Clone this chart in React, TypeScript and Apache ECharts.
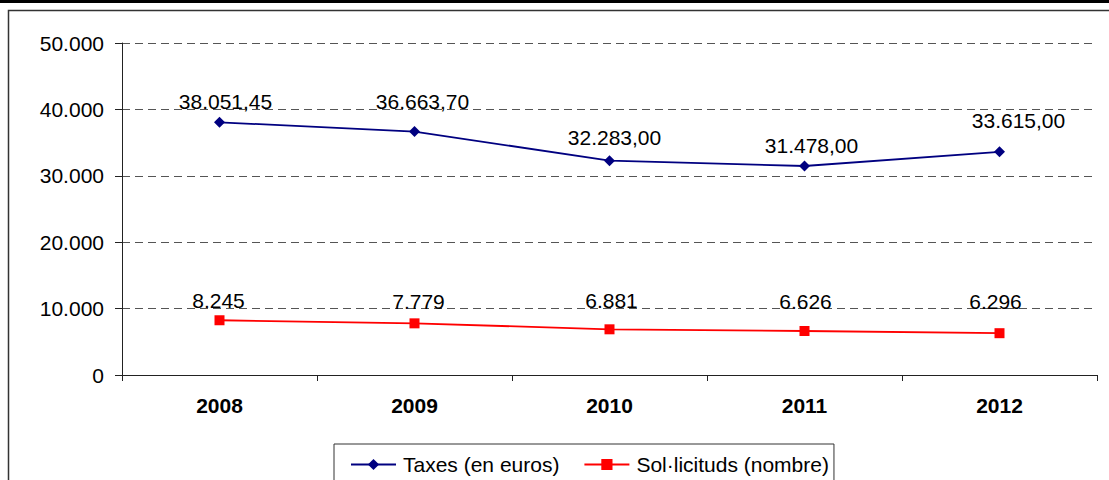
import React, { useEffect, useRef } from "react";
import * as echarts from "echarts";

const years = ["2008", "2009", "2010", "2011", "2012"];
const taxes = [38051.45, 36663.7, 32283.0, 31478.0, 33615.0];
const solicituds = [8245, 7779, 6881, 6626, 6296];
const seriesNames = ["Taxes (en euros)", "Sol·licituds (nombre)"];

// label nudges (style only, relative to each point, as placed in the original)
const taxesLabelNudge = [[6, -21], [8, -30], [5, -23], [7, -20], [19, -31]];
const solLabelNudge = [[-1, -20], [4, -22], [2, -29], [1, -30], [-4, -32]];

const FONT = "'Liberation Sans', Arial, Helvetica, sans-serif";
const FS = 21;

function fmtThousands(v: number, decimals: number): string {
  const fixed = v.toFixed(decimals);
  const [intPart, dec] = fixed.split(".");
  const withSep = intPart.replace(/\B(?=(\d{3})+(?!\d))/g, ".");
  return dec ? withSep + "," + dec : withSep;
}

export default function App() {
  const ref = useRef<HTMLDivElement>(null);
  useEffect(() => {
    document.body.style.margin = "0";
    if (!ref.current) return;
    const chart = echarts.init(ref.current, undefined, { renderer: "svg" });
    const mkData = (vals: number[], nudges: number[][], decimals: number) =>
      vals.map((v, i) => ({
        value: v,
        label: {
          show: true,
          position: "inside",
          offset: nudges[i],
          fontSize: FS,
          color: "#000",
          fontFamily: FONT,
          formatter: () => fmtThousands(v, decimals),
        },
      }));
    chart.setOption({
      animation: false,
      backgroundColor: "#ffffff",
      textStyle: { fontFamily: FONT },
      graphic: [
        {
          type: "rect",
          shape: { x: 0, y: 0, width: 1109, height: 3 },
          style: { fill: "#000" },
          silent: true,
        },
        {
          type: "rect",
          shape: { x: 8.5, y: 10.5, width: 1200, height: 600 },
          style: { fill: "none", stroke: "#333", lineWidth: 1.5 },
          silent: true,
        },
      ],
      grid: { left: 122, right: 12, top: 43, bottom: 105 },
      legend: {
        left: 334,
        top: 444,
        padding: [10, 5, 10, 16],
        itemGap: 24,
        itemWidth: 45,
        itemHeight: 14,
        borderColor: "#333",
        borderWidth: 1,
        textStyle: { fontSize: FS, color: "#000", fontFamily: FONT, padding: [0, 0, 0, 2] },
        data: seriesNames,
      },
      xAxis: {
        type: "category",
        data: years,
        boundaryGap: true,
        axisLine: { lineStyle: { color: "#222", width: 1 } },
        axisTick: { show: true, length: 6, alignWithLabel: false, lineStyle: { color: "#222" } },
        axisLabel: {
          fontSize: FS,
          fontWeight: "bold",
          color: "#000",
          margin: 20,
          fontFamily: FONT,
        },
      },
      yAxis: {
        type: "value",
        min: 0,
        max: 50000,
        interval: 10000,
        axisLine: { show: true, lineStyle: { color: "#222", width: 1 } },
        axisTick: { show: true, length: 7, lineStyle: { color: "#222" } },
        axisLabel: {
          fontSize: FS,
          color: "#000",
          margin: 18,
          fontFamily: FONT,
          formatter: (v: number) => fmtThousands(v, 0),
        },
        splitLine: {
          show: true,
          lineStyle: { color: "#555", type: [8, 5], width: 1 },
        },
      },
      series: [
        {
          name: seriesNames[0],
          type: "line",
          data: mkData(taxes, taxesLabelNudge, 2),
          color: "#000080",
          symbol: "diamond",
          symbolSize: 11,
          lineStyle: { width: 1.8, color: "#000080" },
          itemStyle: { color: "#000080" },
        },
        {
          name: seriesNames[1],
          type: "line",
          data: mkData(solicituds, solLabelNudge, 0),
          color: "#ff0000",
          symbol: "rect",
          symbolSize: 10,
          lineStyle: { width: 1.8, color: "#ff0000" },
          itemStyle: { color: "#ff0000" },
        },
      ],
    });
    return () => chart.dispose();
  }, []);
  return <div ref={ref} style={{ width: 1109, height: 480 }} />;
}
